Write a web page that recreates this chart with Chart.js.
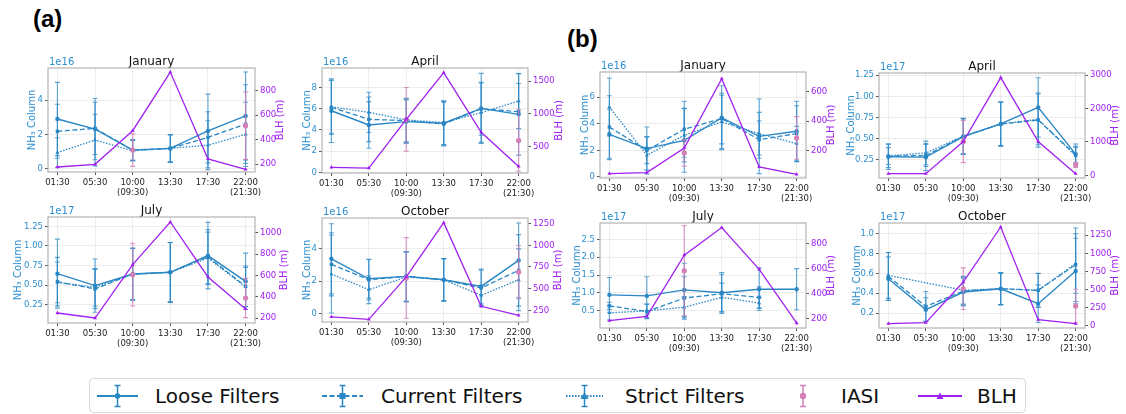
<!DOCTYPE html>
<html>
<head>
<meta charset="utf-8">
<script src="https://cdn.jsdelivr.net/npm/chart.js@4.4.1/dist/chart.umd.min.js"></script>
<style>
body { margin: 0; background: #fff; width: 1126px; height: 414px; position: relative; overflow: hidden; }
canvas { position: absolute; }
#overlay { position: absolute; left: 0; top: 0; }
</style>
</head>
<body>
<svg id="overlay" width="1126" height="414" font-family="DejaVu Sans">
	<text x="33" y="27" font-family="Liberation Sans" font-weight="bold" font-size="24" fill="#000">(a)</text>
	<text x="567" y="47" font-family="Liberation Sans" font-weight="bold" font-size="24" fill="#000">(b)</text>
	<rect x="89.5" y="378.5" width="936" height="34" rx="4" fill="#fff" stroke="#d6d6d6"/>
	<!-- Loose -->
	<g stroke="#2a87c5" fill="#2a87c5">
		<line x1="97" y1="396" x2="138" y2="396" stroke-width="2"/>
		<line x1="117.5" y1="385.5" x2="117.5" y2="406.5" stroke-width="1.5"/>
		<line x1="114.5" y1="385.5" x2="120.5" y2="385.5" stroke-width="1.5"/>
		<line x1="114.5" y1="406.5" x2="120.5" y2="406.5" stroke-width="1.5"/>
		<circle cx="117.5" cy="396" r="2.8" stroke="none"/>
	</g>
	<text x="155" y="403" font-size="20" fill="#111">Loose Filters</text>
	<!-- Current -->
	<g stroke="#2a87c5" fill="#2a87c5">
		<line x1="322" y1="396" x2="363" y2="396" stroke-width="2" stroke-dasharray="5 2.5"/>
		<line x1="342.5" y1="385.5" x2="342.5" y2="406.5" stroke-width="1.5"/>
		<line x1="339.5" y1="385.5" x2="345.5" y2="385.5" stroke-width="1.5"/>
		<line x1="339.5" y1="406.5" x2="345.5" y2="406.5" stroke-width="1.5"/>
		<rect x="339.5" y="393" width="6" height="6" stroke="none"/>
	</g>
	<text x="381" y="403" font-size="20" fill="#111">Current Filters</text>
	<!-- Strict -->
	<g stroke="#2a87c5" fill="#2a87c5">
		<line x1="566" y1="396" x2="603" y2="396" stroke-width="2" stroke-dasharray="1.5 1.5"/>
		<line x1="584.5" y1="385.5" x2="584.5" y2="406.5" stroke-width="1.5"/>
		<line x1="581.5" y1="385.5" x2="587.5" y2="385.5" stroke-width="1.5"/>
		<line x1="581.5" y1="406.5" x2="587.5" y2="406.5" stroke-width="1.5"/>
		<polygon points="584.5,392 588.5,399 580.5,399" stroke="none"/>
	</g>
	<text x="625" y="403" font-size="20" fill="#111">Strict Filters</text>
	<!-- IASI -->
	<g stroke="#d47fb6" fill="#d47fb6">
		<line x1="803" y1="385.5" x2="803" y2="406.5" stroke-width="1.5"/>
		<line x1="800" y1="385.5" x2="806" y2="385.5" stroke-width="1.5"/>
		<line x1="800" y1="406.5" x2="806" y2="406.5" stroke-width="1.5"/>
		<circle cx="803" cy="396" r="3.2" stroke="none"/>
	</g>
	<text x="841" y="403" font-size="20" fill="#111">IASI</text>
	<!-- BLH -->
	<g stroke="#a020f0" fill="#a020f0">
		<line x1="918" y1="396" x2="962" y2="396" stroke-width="2"/>
		<polygon points="940,392.5 943.5,399 936.5,399" stroke="none"/>
	</g>
	<text x="977" y="403" font-size="20" fill="#111">BLH</text>
</svg>
<script>
// panels: (a) Jan, Apr, Jul, Oct, then (b) Jan, Apr, Jul, Oct
var timeLabels = ["01:30", "05:30", ["10:00", "(09:30)"], "13:30", "17:30", ["22:00", "(21:30)"]];
var panelTitles = ["January", "April", "July", "October", "January", "April", "July", "October"];
var exponents = ["1e16", "1e16", "1e17", "1e16", "1e16", "1e17", "1e17", "1e17"];

// NH3 column, in units of the panel exponent
var loose = [
	[2.9, 2.31, 1.08, 1.18, 2.2, 3.08],
	[5.81, 4.47, 4.78, 4.63, 6.03, 5.47],
	[0.646, 0.493, 0.641, 0.663, 0.876, 0.548],
	[3.38, 2.15, 2.3, 2.09, 1.68, 3.28],
	[3.2, 2.13, 2.75, 4.45, 3.05, 3.43],
	[0.285, 0.281, 0.525, 0.674, 0.87, 0.317],
	[0.94, 0.91, 1.08, 1.0, 1.1, 1.1],
	[0.546, 0.234, 0.412, 0.445, 0.294, 0.624]
];
var looseErr = [
	[2.14, 1.79, 0.6, 0.8, 2.15, 2.57],
	[3.0, 2.2, 2.05, 2.06, 3.3, 3.84],
	[0.44, 0.34, 0.33, 0.38, 0.425, 0.36],
	[2.16, 1.2, 1.53, 1.3, 1.07, 2.3],
	[1.9, 1.62, 2.4, 2.4, 2.8, 2.25],
	[0.15, 0.16, 0.21, 0.26, 0.35, 0.12],
	[0.49, 0.54, 0.75, 0.57, 0.6, 0.58],
	[0.22, 0.12, 0.14, 0.16, 0.19, 0.33]
];
var current = [
	[2.18, 2.35, 1.08, 1.18, 1.82, 2.6],
	[6.13, 5.0, 4.88, 4.56, 6.0, 5.72],
	[0.544, 0.45, 0.641, 0.663, 0.86, 0.484],
	[3.04, 2.09, 2.3, 2.09, 1.58, 2.67],
	[3.75, 2.0, 3.58, 4.38, 2.8, 3.25],
	[0.293, 0.30, 0.525, 0.674, 0.72, 0.31],
	[0.63, 0.47, 0.85, 0.97, 0.87, null],
	[0.57, 0.267, 0.422, 0.445, 0.429, 0.687]
];
var currentErr = [
	[1.58, 1.53, 0.6, 0.8, 1.5, 2.3],
	[2.56, 2.1, 2.05, 2.06, 2.5, 2.66],
	[0.31, 0.25, 0.33, 0.38, 0.35, 0.26],
	[1.94, 1.25, 1.53, 1.3, 1.1, 2.2],
	[2.35, 1.0, 2.1, 1.9, 1.4, 2.1],
	[0.1, 0.13, 0.21, 0.26, 0.32, 0.1],
	[0.1, 0.2, 0.6, 0.55, 0.3, null],
	[0.24, 0.15, 0.14, 0.16, 0.17, 0.37]
];
var strict = [
	[0.94, 1.67, 1.04, 1.18, 1.37, 2.0],
	[6.19, 5.66, 4.94, 4.69, 5.63, 6.72],
	[0.535, 0.47, 0.64, 0.663, 0.846, 0.476],
	[2.44, 1.48, 2.26, 2.09, 1.13, 2.09],
	[5.25, 1.63, 3.13, 4.13, 3.25, 2.5],
	[0.297, 0.33, 0.53, 0.674, 0.728, 0.297],
	[0.43, 0.49, 0.59, 0.87, 0.71, null],
	[0.58, null, 0.43, 0.445, 0.43, 0.70]
];
var strictErr = [
	[0.86, 1.51, 0.6, 0.8, 1.43, 1.88],
	[2.5, 1.9, 2.05, 2.06, 2.8, 2.6],
	[0.26, 0.24, 0.33, 0.38, 0.33, 0.25],
	[2.4, 0.86, 1.53, 1.3, 0.6, 1.9],
	[2.18, 1.4, 2.0, 2.0, 1.6, 1.3],
	[0.14, 0.14, 0.21, 0.26, 0.3, 0.1],
	[0.2, 0.2, 0.3, 0.4, 0.15, null],
	[0.23, null, 0.14, 0.16, 0.17, 0.3]
];
var iasi = [
	[null, null, 1.08, null, null, 2.51],
	[null, null, 5.0, null, null, 3.0],
	[null, null, 0.633, null, null, 0.335],
	[null, null, 2.2, null, null, 2.56],
	[null, null, 1.8, null, null, 2.93],
	[null, null, 0.466, null, null, 0.19],
	[null, null, 1.62, null, null, null],
	[null, null, 0.445, null, null, 0.27]
];
var iasiErr = [
	[null, null, 0.95, null, null, 1.97],
	[null, null, 3.0, null, null, 2.9],
	[null, null, 0.4, null, null, 0.25],
	[null, null, 2.48, null, null, 1.64],
	[null, null, 1.0, null, null, 1.6],
	[null, null, 0.25, null, null, 0.03],
	[null, null, 1.27, null, null, null],
	[null, null, 0.21, null, null, 0.17]
];
// boundary layer height (m)
var blh = [
	[178, 200, 474, 953, 244, 159],
	[180, 170, 916, 1632, 718, 195],
	[247, 200, 702, 1103, 586, 285],
	[173, 146, 635, 1261, 296, 192],
	[40, 47, 216, 691, 86, 35],
	[50, 50, 1013, 2930, 1013, 50],
	[184, 218, 707, 927, 594, 166],
	[32, 46, 605, 1362, 87, 32]
];

// axis ranges
var leftRange = [[-0.2, 5.88], [-0.06, 9.84], [0.016, 1.369], [-0.51, 5.89], [-0.08, 7.88], [0.034, 1.277], [0.005, 2.967], [0.049, 1.108]];
var leftStep = [2, 2, 0.25, 2, 2, 0.25, 0.5, 0.2];
var leftDecimals = [0, 0, 2, 0, 0, 2, 1, 1];
var rightRange = [[137, 986], [94, 1703], [153, 1150], [115, 1315], [10, 737], [-79, 3068], [126, 963], [-28, 1417]];
var rightStep = [200, 500, 200, 250, 200, 1000, 200, 250];

// page layout of each plot box: left, top, right, bottom
var plotBoxes = [[48, 68, 255, 172], [322, 68, 528, 173], [48, 217, 255, 323], [322, 218, 528, 322],
	[600, 72, 806, 178], [879, 73, 1085, 178], [600, 223, 806, 328], [879, 223, 1085, 328]];
var leftGap = [16, 15, 30, 15, 15, 28, 23, 22];
var rightGap = [25, 31, 29, 30, 25, 30, 25, 30];

var BLUE = "#2a87c5";
var BLUE_TXT = "#2e8fcf";
var PINK = "#d47fb6";
var PURPLE = "#a020f0";
var FONT = "DejaVu Sans";

Chart.defaults.font.family = FONT;

var errorBars = {
	id: "errorBars",
	beforeDatasetDraw: function (chart, args) {
		var ds = chart.data.datasets[args.index];
		if (!ds.errors) return;
		var ys = chart.scales[ds.yAxisID];
		var a = chart.chartArea;
		var ctx = chart.ctx;
		ctx.save();
		ctx.beginPath();
		ctx.rect(a.left, a.top, a.right - a.left, a.bottom - a.top);
		ctx.clip();
		ctx.strokeStyle = ds.errorColor;
		ctx.lineWidth = 1.1;
		args.meta.data.forEach(function (pt, i) {
			var v = ds.data[i].y;
			var e = ds.errors[i];
			if (v == null || e == null) return;
			var x = pt.x;
			var y1 = ys.getPixelForValue(v - e);
			var y2 = ys.getPixelForValue(v + e);
			ctx.beginPath();
			ctx.moveTo(x, y1); ctx.lineTo(x, y2);
			ctx.moveTo(x - 2.5, y1); ctx.lineTo(x + 2.5, y1);
			ctx.moveTo(x - 2.5, y2); ctx.lineTo(x + 2.5, y2);
			ctx.stroke();
		});
		ctx.restore();
	}
};

var panelDecor = {
	id: "panelDecor",
	afterDraw: function (chart, args, opts) {
		var a = chart.chartArea;
		var ctx = chart.ctx;
		ctx.save();
		ctx.strokeStyle = "#b4b4b4";
		ctx.lineWidth = 1.2;
		ctx.strokeRect(a.left, a.top, a.right - a.left, a.bottom - a.top);
		ctx.fillStyle = BLUE_TXT;
		ctx.font = "10px '" + FONT + "'";
		ctx.textAlign = "left";
		ctx.textBaseline = "bottom";
		ctx.fillText(opts.exponent, a.left + 1, a.top - 1);
		// right label reads bottom-to-top like matplotlib
		ctx.translate(a.right + opts.rightGap, (a.top + a.bottom) / 2);
		ctx.rotate(-Math.PI / 2);
		ctx.fillStyle = PURPLE;
		ctx.font = "10px '" + FONT + "'";
		ctx.textAlign = "center";
		ctx.textBaseline = "middle";
		ctx.fillText("BLH (m)", 0, 0);
		ctx.restore();
	}
};

// tick values every `step` inside [min, max]
function stepTicks(min, max, step) {
	var out = [];
	var k = Math.ceil(min / step - 1e-9);
	while (k * step <= max + 1e-9) {
		out.push({ value: +(k * step).toFixed(6) });
		k++;
	}
	return out;
}

function pts(arr, p) {
	return arr[p].map(function (v, i) { return { x: i, y: v }; });
}

function makePanel(p) {
	var box = plotBoxes[p];
	var w = box[2] - box[0];
	var h = box[3] - box[1];
	var cv = document.createElement("canvas");
	cv.width = w + 96;
	cv.height = h + 61;
	cv.style.left = (box[0] - 48) + "px";
	cv.style.top = (box[1] - 29) + "px";
	document.body.appendChild(cv);

	var gridStyle = { color: "rgba(0,0,0,0.07)", tickColor: "#555", tickLength: 3 };

	new Chart(cv, {
		type: "line",
		data: {
			datasets: [
				{
					label: "BLH", data: pts(blh, p), yAxisID: "y2",
					borderColor: PURPLE, backgroundColor: PURPLE, borderWidth: 1.3,
					pointStyle: "triangle", pointRadius: 2.3, pointBorderWidth: 0
				},
				{
					label: "IASI", data: pts(iasi, p), errors: iasiErr[p], errorColor: "rgba(212,127,182,0.85)",
					yAxisID: "y", showLine: false,
					borderColor: PINK, backgroundColor: PINK, pointStyle: "circle", pointRadius: 2.6, pointBorderWidth: 0
				},
				{
					label: "Strict Filters", data: pts(strict, p), errors: strictErr[p], errorColor: "rgba(42,135,197,0.75)",
					yAxisID: "y", borderColor: BLUE, backgroundColor: BLUE, borderWidth: 1.3, borderDash: [1.5, 1.5],
					pointStyle: "triangle", pointRadius: 2.3, pointBorderWidth: 0
				},
				{
					label: "Current Filters", data: pts(current, p), errors: currentErr[p], errorColor: "rgba(42,135,197,0.75)",
					yAxisID: "y", borderColor: BLUE, backgroundColor: BLUE, borderWidth: 1.3, borderDash: [5, 2.5],
					pointStyle: "rect", pointRadius: 2.4, pointBorderWidth: 0
				},
				{
					label: "Loose Filters", data: pts(loose, p), errors: looseErr[p], errorColor: "rgba(42,135,197,0.75)",
					yAxisID: "y", borderColor: BLUE, backgroundColor: BLUE, borderWidth: 1.4,
					pointStyle: "circle", pointRadius: 2.2, pointBorderWidth: 0
				}
			]
		},
		options: {
			responsive: false,
			animation: false,
			spanGaps: true,
			layout: { padding: 0 },
			plugins: {
				legend: { display: false },
				tooltip: { enabled: false },
				title: {
					display: true,
					text: panelTitles[p],
					color: "#111",
					font: { size: 12, weight: "normal", lineHeight: 1 },
					padding: { top: 17, bottom: 0 }
				},
				panelDecor: { exponent: exponents[p], rightGap: rightGap[p] }
			},
			scales: {
				x: {
					type: "linear",
					min: -0.25,
					max: 5.25,
					afterFit: function (s) { s.height = 32; },
					afterBuildTicks: function (s) { s.ticks = stepTicks(0, 5, 1); },
					border: { display: false },
					grid: gridStyle,
					ticks: {
						autoSkip: false, maxRotation: 0, minRotation: 0, padding: 2,
						color: "#222", font: { size: 8.5, lineHeight: 1.25 },
						callback: function (v) { return timeLabels[v]; }
					}
				},
				y: {
					position: "left",
					min: leftRange[p][0],
					max: leftRange[p][1],
					afterFit: function (s) { s.width = 48; },
					afterBuildTicks: function (s) { s.ticks = stepTicks(leftRange[p][0], leftRange[p][1], leftStep[p]); },
					border: { display: false },
					grid: gridStyle,
					ticks: {
						autoSkip: false, padding: 2,
						color: BLUE_TXT, font: { size: 8.5 },
						callback: function (v) { return v.toFixed(leftDecimals[p]); }
					},
					title: {
						display: true, text: "NH₃ Column", color: BLUE_TXT,
						font: { size: 10 },
						padding: { top: 48 - leftGap[p] - 6, bottom: 0 }
					}
				},
				y2: {
					type: "linear",
					position: "right",
					min: rightRange[p][0],
					max: rightRange[p][1],
					afterFit: function (s) { s.width = 48; },
					afterBuildTicks: function (s) { s.ticks = stepTicks(rightRange[p][0], rightRange[p][1], rightStep[p]); },
					border: { display: false },
					grid: { drawOnChartArea: false, tickColor: "#555", tickLength: 3 },
					ticks: {
						autoSkip: false, padding: 2,
						color: PURPLE, font: { size: 8.5 },
						callback: function (v) { return String(Math.round(v)); }
					}
				}
			}
		},
		plugins: [errorBars, panelDecor]
	});
}

for (var p = 0; p < 8; p++) {
	makePanel(p);
}
</script>
</body>
</html>
